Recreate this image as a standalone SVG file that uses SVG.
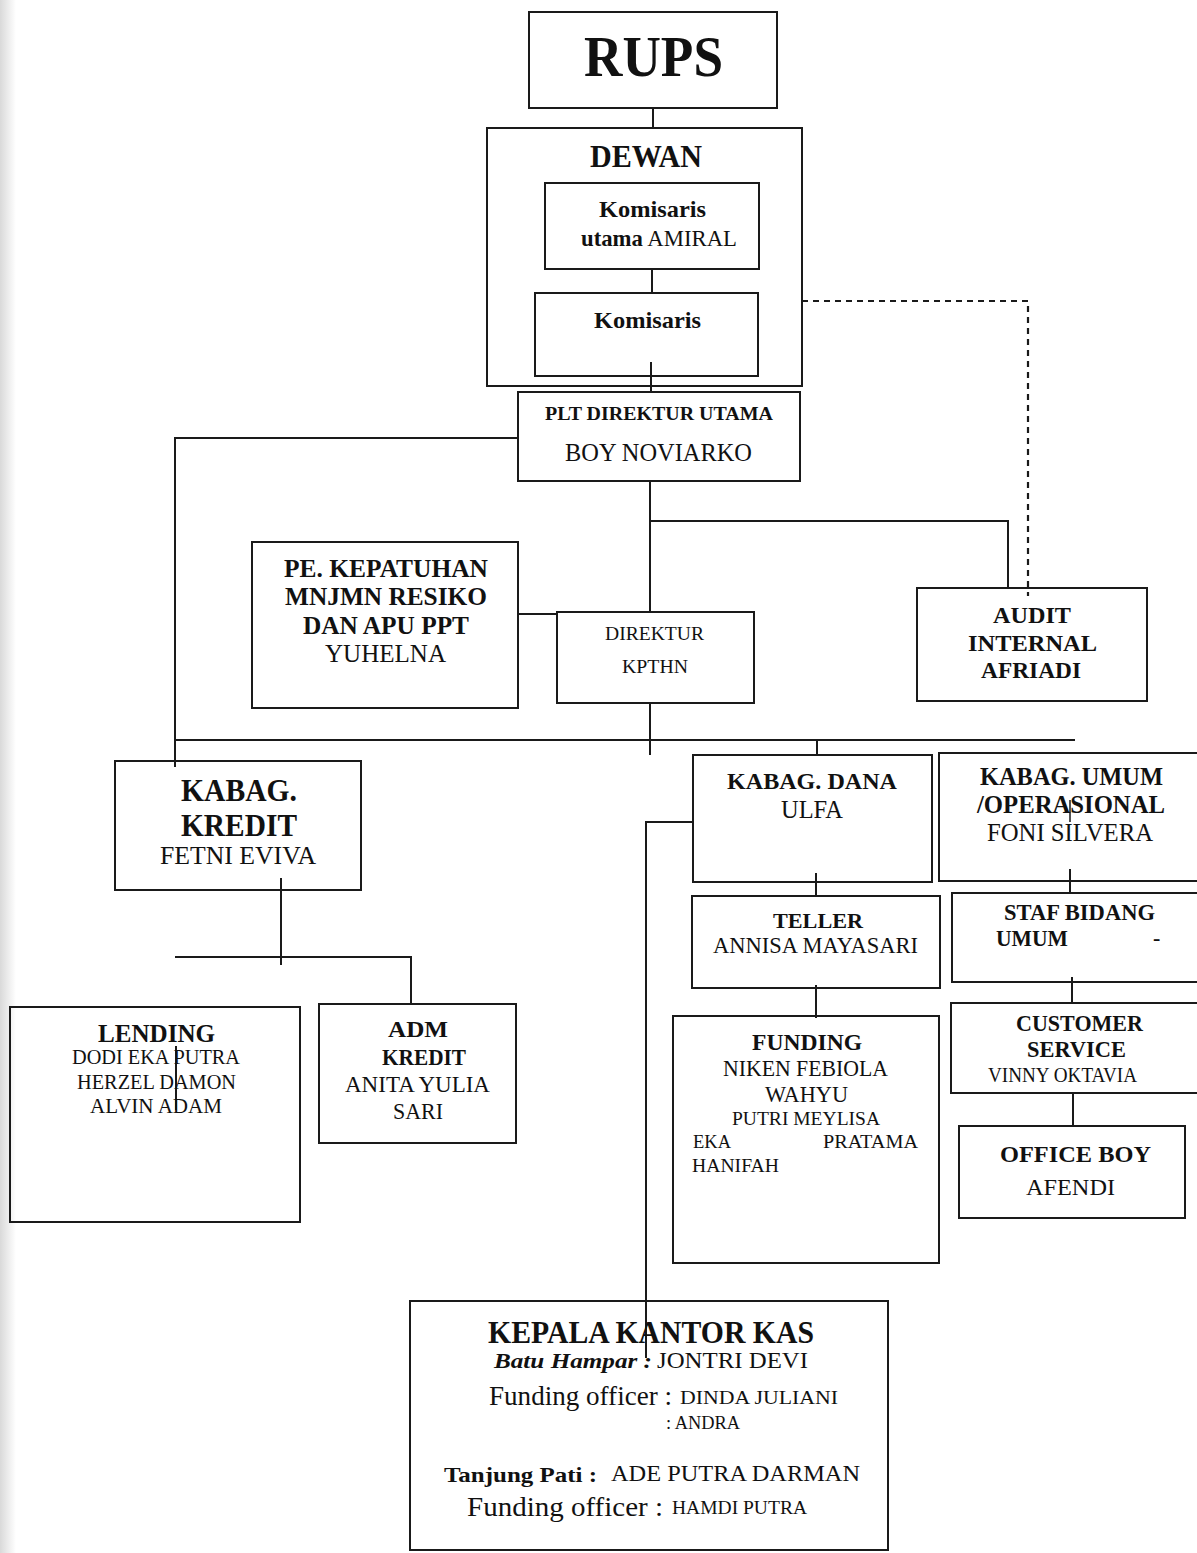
<svg xmlns="http://www.w3.org/2000/svg" width="1197" height="1553" viewBox="0 0 1197 1553">
<defs>
<linearGradient id="edge" x1="0" y1="0" x2="1" y2="0">
<stop offset="0" stop-color="#d9d9d9"/>
<stop offset="1" stop-color="#ffffff"/>
</linearGradient>
<style>
.box{fill:none;stroke:#1a1a1a;stroke-width:2}
.ln{fill:none;stroke:#1a1a1a;stroke-width:2}
.dash{fill:none;stroke:#1a1a1a;stroke-width:2.2;stroke-dasharray:6 5}
text{font-family:"Liberation Serif","Times New Roman",serif;fill:#111}
.b{font-weight:bold}
</style>
</defs>
<rect x="0" y="0" width="1197" height="1553" fill="#fff"/>
<rect x="0" y="0" width="16" height="1553" fill="url(#edge)"/>

<g id="connectors">
<path class="ln" d="M653 108V128"/>
<path class="ln" d="M652 269V293"/>
<path class="ln" d="M651 362V392"/>
<path class="ln" d="M518 438H175V767"/>
<path class="ln" d="M650 481V612"/>
<path class="ln" d="M650 521H1008V588"/>
<path class="dash" d="M802 301H1028V596"/>
<path class="ln" d="M518 614H557"/>
<path class="ln" d="M650 703V755"/>
<path class="ln" d="M175 740H1075"/>
<path class="ln" d="M817 740V755"/>
<path class="ln" d="M693 822H646V1358"/>
<path class="ln" d="M816 873V896"/>
<path class="ln" d="M816 985V1018"/>
<path class="ln" d="M1070 869V893"/>
<path class="ln" d="M1072 977V1003"/>
<path class="ln" d="M1073 1093V1126"/>
<path class="ln" d="M281 878V965"/>
<path class="ln" d="M175 957H411V1004"/>
<path class="ln" d="M176 1046V1110"/>
<path class="ln" d="M1070 800V822" style="stroke-width:1.5"/>
</g>

<g id="rups">
<rect class="box" x="529" y="12" width="248" height="96"/>
<text class="b" x="584" y="76" font-size="57" textLength="139" lengthAdjust="spacingAndGlyphs">RUPS</text>
</g>

<g id="dewan">
<rect class="box" x="487" y="128" width="315" height="258"/>
<text class="b" x="590" y="167" font-size="31" textLength="112" lengthAdjust="spacingAndGlyphs">DEWAN</text>
</g>

<g id="komisaris-utama">
<rect class="box" x="545" y="183" width="214" height="86"/>
<text class="b" x="599" y="217" font-size="24" textLength="107" lengthAdjust="spacingAndGlyphs">Komisaris</text>
<text x="581" y="246" font-size="24" textLength="156" lengthAdjust="spacingAndGlyphs"><tspan class="b">utama</tspan> AMIRAL</text>
</g>

<g id="komisaris">
<rect class="box" x="535" y="293" width="223" height="83"/>
<text class="b" x="594" y="328" font-size="24" textLength="107" lengthAdjust="spacingAndGlyphs">Komisaris</text>
</g>

<g id="plt-direktur">
<rect class="box" x="518" y="392" width="282" height="89"/>
<text class="b" x="545" y="420" font-size="19" textLength="228" lengthAdjust="spacingAndGlyphs">PLT DIREKTUR UTAMA</text>
<text x="565" y="461" font-size="25" textLength="187" lengthAdjust="spacingAndGlyphs">BOY NOVIARKO</text>
</g>

<g id="pe-kepatuhan">
<rect class="box" x="252" y="542" width="266" height="166"/>
<text class="b" x="284" y="577" font-size="25" textLength="204" lengthAdjust="spacingAndGlyphs">PE. KEPATUHAN</text>
<text class="b" x="285" y="605" font-size="25" textLength="202" lengthAdjust="spacingAndGlyphs">MNJMN RESIKO</text>
<text class="b" x="303" y="634" font-size="25" textLength="166" lengthAdjust="spacingAndGlyphs">DAN APU PPT</text>
<text x="325" y="662" font-size="25" textLength="121" lengthAdjust="spacingAndGlyphs">YUHELNA</text>
</g>

<g id="direktur-kpthn">
<rect class="box" x="557" y="612" width="197" height="91"/>
<text x="605" y="640" font-size="19" textLength="99" lengthAdjust="spacingAndGlyphs">DIREKTUR</text>
<text x="622" y="673" font-size="19" textLength="66" lengthAdjust="spacingAndGlyphs">KPTHN</text>
</g>

<g id="audit-internal">
<rect class="box" x="917" y="588" width="230" height="113"/>
<text class="b" x="993" y="623" font-size="24" textLength="78" lengthAdjust="spacingAndGlyphs">AUDIT</text>
<text class="b" x="968" y="651" font-size="24" textLength="129" lengthAdjust="spacingAndGlyphs">INTERNAL</text>
<text class="b" x="981" y="678" font-size="24" textLength="100" lengthAdjust="spacingAndGlyphs">AFRIADI</text>
</g>

<g id="kabag-kredit">
<rect class="box" x="115" y="761" width="246" height="129"/>
<text class="b" x="181" y="801" font-size="31" textLength="116" lengthAdjust="spacingAndGlyphs">KABAG.</text>
<text class="b" x="181" y="836" font-size="31" textLength="116" lengthAdjust="spacingAndGlyphs">KREDIT</text>
<text x="160" y="864" font-size="25" textLength="156" lengthAdjust="spacingAndGlyphs">FETNI EVIVA</text>
</g>

<g id="lending">
<rect class="box" x="10" y="1007" width="290" height="215"/>
<text class="b" x="98" y="1042" font-size="25" textLength="117" lengthAdjust="spacingAndGlyphs">LENDING</text>
<text x="72" y="1064" font-size="21" textLength="168" lengthAdjust="spacingAndGlyphs">DODI EKA PUTRA</text>
<text x="77" y="1089" font-size="21" textLength="159" lengthAdjust="spacingAndGlyphs">HERZEL DAMON</text>
<text x="90" y="1113" font-size="21" textLength="132" lengthAdjust="spacingAndGlyphs">ALVIN ADAM</text>
</g>

<g id="adm-kredit">
<rect class="box" x="319" y="1004" width="197" height="139"/>
<text class="b" x="388" y="1037" font-size="24" textLength="60" lengthAdjust="spacingAndGlyphs">ADM</text>
<text class="b" x="382" y="1065" font-size="24" textLength="84" lengthAdjust="spacingAndGlyphs">KREDIT</text>
<text x="345" y="1092" font-size="23" textLength="145" lengthAdjust="spacingAndGlyphs">ANITA YULIA</text>
<text x="393" y="1119" font-size="23" textLength="50" lengthAdjust="spacingAndGlyphs">SARI</text>
</g>

<g id="kabag-dana">
<rect class="box" x="693" y="755" width="239" height="127"/>
<text class="b" x="727" y="789" font-size="24" textLength="170" lengthAdjust="spacingAndGlyphs">KABAG. DANA</text>
<text x="781" y="818" font-size="25" textLength="62" lengthAdjust="spacingAndGlyphs">ULFA</text>
</g>

<g id="teller">
<rect class="box" x="692" y="896" width="248" height="92"/>
<text class="b" x="773" y="928" font-size="22" textLength="90" lengthAdjust="spacingAndGlyphs">TELLER</text>
<text x="713" y="953" font-size="23" textLength="205" lengthAdjust="spacingAndGlyphs">ANNISA MAYASARI</text>
</g>

<g id="funding">
<rect class="box" x="673" y="1016" width="266" height="247"/>
<text class="b" x="752" y="1050" font-size="24" textLength="110" lengthAdjust="spacingAndGlyphs">FUNDING</text>
<text x="723" y="1076" font-size="23" textLength="165" lengthAdjust="spacingAndGlyphs">NIKEN FEBIOLA</text>
<text x="765" y="1102" font-size="23" textLength="83" lengthAdjust="spacingAndGlyphs">WAHYU</text>
<text x="732" y="1125" font-size="19" textLength="148" lengthAdjust="spacingAndGlyphs">PUTRI MEYLISA</text>
<text x="693" y="1148" font-size="19" textLength="38" lengthAdjust="spacingAndGlyphs">EKA</text>
<text x="823" y="1148" font-size="19" textLength="95" lengthAdjust="spacingAndGlyphs">PRATAMA</text>
<text x="692" y="1172" font-size="19" textLength="87" lengthAdjust="spacingAndGlyphs">HANIFAH</text>
</g>

<g id="kabag-umum">
<rect class="box" x="939" y="753" width="266" height="128"/>
<text class="b" x="980" y="785" font-size="25" textLength="183" lengthAdjust="spacingAndGlyphs">KABAG. UMUM</text>
<text class="b" x="977" y="813" font-size="25" textLength="188" lengthAdjust="spacingAndGlyphs">/OPERASIONAL</text>
<text x="987" y="841" font-size="25" textLength="166" lengthAdjust="spacingAndGlyphs">FONI SILVERA</text>
</g>

<g id="staf-bidang-umum">
<rect class="box" x="952" y="893" width="253" height="89"/>
<text class="b" x="1004" y="920" font-size="23" textLength="151" lengthAdjust="spacingAndGlyphs">STAF BIDANG</text>
<text class="b" x="996" y="946" font-size="23" textLength="72" lengthAdjust="spacingAndGlyphs">UMUM</text>
<text class="b" x="1153" y="945" font-size="22">-</text>
</g>

<g id="customer-service">
<rect class="box" x="951" y="1003" width="254" height="90"/>
<text class="b" x="1016" y="1031" font-size="23" textLength="127" lengthAdjust="spacingAndGlyphs">CUSTOMER</text>
<text class="b" x="1027" y="1057" font-size="23" textLength="99" lengthAdjust="spacingAndGlyphs">SERVICE</text>
<text x="988" y="1082" font-size="22" textLength="149" lengthAdjust="spacingAndGlyphs">VINNY OKTAVIA</text>
</g>

<g id="office-boy">
<rect class="box" x="959" y="1126" width="226" height="92"/>
<text class="b" x="1000" y="1162" font-size="24" textLength="151" lengthAdjust="spacingAndGlyphs">OFFICE BOY</text>
<text x="1026" y="1195" font-size="23" textLength="89" lengthAdjust="spacingAndGlyphs">AFENDI</text>
</g>

<g id="kepala-kantor-kas">
<rect class="box" x="410" y="1301" width="478" height="249"/>
<text class="b" x="488" y="1343" font-size="31" textLength="326" lengthAdjust="spacingAndGlyphs">KEPALA KANTOR KAS</text>
<text class="b" x="494" y="1368" font-size="22" font-style="italic" textLength="158" lengthAdjust="spacingAndGlyphs">Batu Hampar :</text>
<text x="657" y="1368" font-size="24" textLength="151" lengthAdjust="spacingAndGlyphs">JONTRI DEVI</text>
<text x="489" y="1405" font-size="28" textLength="183" lengthAdjust="spacingAndGlyphs">Funding officer :</text>
<text x="680" y="1404" font-size="18" textLength="158" lengthAdjust="spacingAndGlyphs">DINDA JULIANI</text>
<text x="666" y="1429" font-size="18" textLength="74" lengthAdjust="spacingAndGlyphs">: ANDRA</text>
<text class="b" x="444" y="1482" font-size="22" textLength="153" lengthAdjust="spacingAndGlyphs">Tanjung Pati :</text>
<text x="611" y="1481" font-size="24" textLength="249" lengthAdjust="spacingAndGlyphs">ADE PUTRA DARMAN</text>
<text x="467" y="1516" font-size="28" textLength="196" lengthAdjust="spacingAndGlyphs">Funding officer :</text>
<text x="672" y="1514" font-size="18" textLength="135" lengthAdjust="spacingAndGlyphs">HAMDI PUTRA</text>
</g>
</svg>
